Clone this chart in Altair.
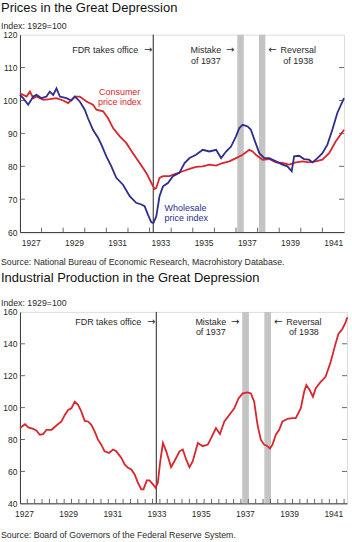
import altair as alt
import pandas as pd

FONT = "Liberation Sans"
TEXT_COLOR = "#2a2a2a"
RED = "#d8262c"
BLUE = "#2e2c8c"
SHADE = "#c4c4c4"

# ---------------- data: prices (index 1929=100) ----------------
CPI_YEARS = [1927.00, 1927.31, 1927.46, 1927.62, 1927.77, 1928.08, 1928.38, 1928.69, 1929.00, 1929.23,
             1929.54, 1929.77, 1930.08, 1930.38, 1930.54, 1930.85, 1931.08, 1931.31, 1931.62, 1931.92,
             1932.23, 1932.54, 1932.85, 1933.08, 1933.23, 1933.31, 1933.46, 1933.62, 1933.92, 1934.23,
             1934.54, 1934.85, 1935.15, 1935.46, 1935.77, 1936.08, 1936.38, 1936.69, 1937.00, 1937.31,
             1937.62, 1937.77, 1937.92, 1938.23, 1938.54, 1938.85, 1939.15, 1939.46, 1939.77, 1940.08,
             1940.38, 1940.69, 1941.00, 1941.31, 1941.62, 1942.00]
CPI_VALUES = [102.2, 101.2, 102.7, 100.7, 101.2, 100.2, 100.4, 100.7, 100.0, 99.2,
              101.2, 101.2, 99.7, 98.7, 97.2, 96.7, 94.6, 91.6, 89.1, 87.1,
              84.0, 81.0, 78.0, 75.0, 73.1, 73.4, 76.5, 77.0, 77.0, 77.8,
              78.5, 79.2, 79.8, 80.0, 80.5, 80.2, 81.0, 81.5, 82.5, 83.5,
              85.0, 84.5, 83.5, 82.0, 82.2, 81.2, 81.0, 80.5, 81.2, 81.5,
              81.2, 81.5, 82.0, 84.0, 87.6, 91.1]

WPI_YEARS = [1927.00, 1927.15, 1927.38, 1927.62, 1927.77, 1928.00, 1928.23, 1928.38, 1928.54, 1928.69,
             1928.85, 1929.15, 1929.38, 1929.54, 1929.77, 1930.00, 1930.15, 1930.38, 1930.62, 1930.77,
             1931.00, 1931.23, 1931.46, 1931.77, 1932.08, 1932.38, 1932.62, 1932.77, 1932.92, 1933.08,
             1933.18, 1933.31, 1933.46, 1933.62, 1933.85, 1934.08, 1934.38, 1934.62, 1934.85, 1935.15,
             1935.46, 1935.77, 1936.08, 1936.31, 1936.54, 1936.77, 1937.00, 1937.15, 1937.31, 1937.54,
             1937.69, 1937.85, 1938.08, 1938.31, 1938.54, 1938.85, 1939.15, 1939.38, 1939.58, 1939.69,
             1939.92, 1940.15, 1940.38, 1940.54, 1940.77, 1941.00, 1941.23, 1941.46, 1941.69, 1942.00]
WPI_VALUES = [101.7, 100.7, 98.7, 101.2, 101.7, 100.7, 101.2, 102.7, 101.7, 103.7,
              101.2, 100.7, 100.0, 101.2, 99.7, 97.2, 94.6, 91.1, 88.6, 86.6,
              83.0, 80.0, 76.5, 74.4, 70.9, 68.9, 68.4, 67.9, 65.4, 63.0,
              62.8, 64.8, 70.9, 73.9, 74.9, 77.0, 78.0, 81.0, 82.5, 83.5,
              85.0, 84.5, 85.0, 82.5, 84.5, 86.0, 89.1, 91.6, 92.6, 92.1,
              91.1, 88.1, 84.0, 82.5, 82.5, 81.5, 80.5, 80.0, 78.5, 83.0,
              83.2, 82.2, 82.0, 81.2, 82.5, 84.0, 86.6, 91.1, 96.2, 100.7]

# ---------------- data: industrial production (index 1929=100) ----------------
IP_YEARS = [1927.00, 1927.23, 1927.38, 1927.60, 1927.75, 1927.90, 1928.05, 1928.20, 1928.43, 1928.65,
            1928.88, 1929.03, 1929.18, 1929.33, 1929.48, 1929.63, 1929.78, 1929.93, 1930.08, 1930.23,
            1930.38, 1930.53, 1930.68, 1930.83, 1931.03, 1931.21, 1931.36, 1931.59, 1931.74, 1931.89,
            1932.04, 1932.19, 1932.34, 1932.49, 1932.59, 1932.74, 1932.86, 1933.02, 1933.14, 1933.24,
            1933.35, 1933.47, 1933.62, 1933.84, 1933.99, 1934.22, 1934.37, 1934.52, 1934.67, 1934.82,
            1935.05, 1935.27, 1935.50, 1935.65, 1935.87, 1936.05, 1936.25, 1936.47, 1936.70, 1936.89,
            1937.08, 1937.30, 1937.45, 1937.60, 1937.75, 1937.90, 1938.05, 1938.20, 1938.31, 1938.43,
            1938.58, 1938.73, 1938.88, 1939.11, 1939.33, 1939.48, 1939.71, 1939.86, 1939.96, 1940.11,
            1940.26, 1940.38, 1940.61, 1940.83, 1941.06, 1941.26, 1941.41, 1941.59, 1941.74, 1941.81]
IP_VALUES = [87.2, 89.6, 87.6, 86.7, 85.5, 83.0, 83.4, 86.1, 86.1, 88.8,
             91.3, 95.4, 98.5, 99.6, 103.7, 101.7, 97.5, 91.7, 91.3, 89.2,
             85.1, 79.9, 76.8, 72.6, 71.6, 73.7, 72.6, 68.5, 64.4, 62.3,
             61.2, 58.1, 52.9, 48.8, 48.8, 54.4, 54.4, 51.9, 49.8, 53.0,
             66.4, 77.8, 72.6, 62.7, 66.4, 72.6, 73.7, 67.5, 62.7, 66.4,
             77.8, 75.8, 76.8, 80.9, 87.2, 83.4, 91.3, 95.4, 99.6, 105.8,
             108.9, 109.5, 108.9, 103.7, 89.2, 79.9, 76.8, 75.8, 74.3, 76.8,
             83.0, 86.1, 91.3, 93.0, 93.4, 93.4, 99.6, 109.9, 114.1, 111.0,
             106.8, 112.0, 116.2, 119.3, 128.6, 139.0, 146.2, 149.3, 153.5, 156.6]

# ---------------- events ----------------
FDR_YEAR = [1933.17]
SHADE_START = [1937.06, 1938.06]
SHADE_END = [1937.36, 1938.36]

# ---------------- axes ----------------
LABEL_YEARS = [1927, 1929, 1931, 1933, 1935, 1937, 1939, 1941]
TOP_X_TICKS = list(range(1928, 1942))
BOTTOM_X_TICKS = [1927 + k / 3 for k in range(1, 45)]
TOP_Y_LABELS = [60, 70, 80, 90, 100, 110, 120]
TOP_Y_TICKS = [70, 80, 90, 100, 110]
BOTTOM_Y_LABELS = [40, 60, 80, 100, 120, 140, 160]
BOTTOM_Y_TICKS = [60, 80, 100, 120, 140]


def make_panel(width, height, xdomain, ydomain, label_pos, x_ticks, y_labels, y_ticks,
               line_df, color_domain, color_range, title, source, source_gap, sub_pad, title_offset, texts):
    xs = alt.Scale(domain=xdomain, nice=False, zero=False)
    ys = alt.Scale(domain=ydomain, nice=False, zero=False)
    xax = alt.Axis(values=label_pos, labelExpr="floor(datum.value)", ticks=False, grid=False,
                   title=None, domainColor="#333", labelFontSize=8.5, labelColor=TEXT_COLOR,
                   labelPadding=6, labelFlush=False, labelFont=FONT)
    yax = alt.Axis(values=y_labels, ticks=False, grid=False, title=None, domainColor="#333",
                   labelFontSize=8.5, labelColor=TEXT_COLOR, labelPadding=3, labelFont=FONT)

    shade_df = pd.DataFrame({"start": SHADE_START, "end": SHADE_END})
    shade = alt.Chart(shade_df).mark_rect(color=SHADE).encode(
        x=alt.X("start:Q", scale=xs, axis=xax), x2="end:Q",
        y=alt.value(0), y2=alt.value(height))

    fdr = alt.Chart(pd.DataFrame({"year": FDR_YEAR})).mark_rule(color="#222", strokeWidth=1).encode(
        x=alt.X("year:Q", scale=xs, axis=xax))

    lines = alt.Chart(line_df).mark_line(strokeWidth=1.8).encode(
        x=alt.X("year:Q", scale=xs, axis=xax),
        y=alt.Y("value:Q", scale=ys, axis=yax),
        color=alt.Color("series:N", scale=alt.Scale(domain=color_domain, range=color_range), legend=None))

    xt = alt.Chart(pd.DataFrame({"year": x_ticks})).mark_rule(color="#444", strokeWidth=0.8).encode(
        x=alt.X("year:Q", scale=xs, axis=xax), y=alt.value(height - 4.5), y2=alt.value(height))

    yt_df = pd.DataFrame({"v": y_ticks})
    ytl = alt.Chart(yt_df).mark_rule(color="#444", strokeWidth=0.8).encode(
        y=alt.Y("v:Q", scale=ys, axis=yax), x=alt.value(0), x2=alt.value(5))
    ytr = alt.Chart(yt_df).mark_rule(color="#444", strokeWidth=0.8).encode(
        y=alt.Y("v:Q", scale=ys, axis=yax), x=alt.value(width - 5), x2=alt.value(width))

    layers = [shade, fdr, lines, xt, ytl, ytr]
    for t in texts:
        txt, xpos, ypos, align, dx, color, font, size = t
        if isinstance(xpos, tuple):
            xenc = alt.X(datum=xpos[0], scale=xs, axis=xax)
        else:
            xenc = alt.value(xpos)
        layers.append(
            alt.Chart(pd.DataFrame({"t": [txt]})).mark_text(
                align=align, baseline="middle", dx=dx, color=color, font=font, fontSize=size
            ).encode(x=xenc, y=alt.value(ypos), text="t:N"))

    layers.append(
        alt.Chart(pd.DataFrame({"t": [source]})).mark_text(
            align="left", baseline="middle", color=TEXT_COLOR, font=FONT, fontSize=8.8
        ).encode(x=alt.value(-19), y=alt.value(height + source_gap), text="t:N"))

    return alt.layer(*layers).properties(
        width=width, height=height,
        title=alt.TitleParams(text=title, subtitle="Index: 1929=100", anchor="start", frame="bounds",
                              font=FONT, fontSize=13, fontWeight="normal", color="#111",
                              subtitleFont=FONT, subtitleFontSize=8.8, subtitleColor=TEXT_COLOR,
                              subtitlePadding=sub_pad, offset=title_offset))


ARROW_FONT = "DejaVu Sans"


def annotations(fdr, s0, s1, y1, y2):
    return [
        ("FDR takes office", (fdr,), y1, "right", -15, TEXT_COLOR, FONT, 9),
        ("\u2192", (fdr,), y1, "right", -1, TEXT_COLOR, ARROW_FONT, 10),
        ("Mistake", (s0,), y1, "center", -31.5, TEXT_COLOR, FONT, 9),
        ("of 1937", (s0,), y2, "center", -31.5, TEXT_COLOR, FONT, 9),
        ("\u2192", (s0,), y1, "right", -3, TEXT_COLOR, ARROW_FONT, 10),
        ("\u2190", (s1,), y1, "left", 3, TEXT_COLOR, ARROW_FONT, 10),
        ("Reversal", (s1,), y1, "center", 33, TEXT_COLOR, FONT, 9),
        ("of 1938", (s1,), y2, "center", 33, TEXT_COLOR, FONT, 9),
    ]


prices_df = pd.DataFrame({
    "year": CPI_YEARS + WPI_YEARS,
    "value": CPI_VALUES + WPI_VALUES,
    "series": ["Consumer price index"] * len(CPI_YEARS) + ["Wholesale price index"] * len(WPI_YEARS),
})
ip_df = pd.DataFrame({"year": IP_YEARS, "value": IP_VALUES, "series": ["Industrial production"] * len(IP_YEARS)})

top_texts = annotations(FDR_YEAR[0], SHADE_START[0], SHADE_END[1], 15, 26) + [
    ("Consumer", 100, 58, "center", 0, RED, FONT, 9),
    ("price index", 100, 68, "center", 0, RED, FONT, 9),
    ("Wholesale", 145, 174, "left", 0, BLUE, FONT, 9),
    ("price index", 145, 184, "left", 0, BLUE, FONT, 9),
]
top = make_panel(325, 198, [1927, 1942], [60, 120], [y + 0.5 for y in LABEL_YEARS], TOP_X_TICKS,
                 TOP_Y_LABELS, TOP_Y_TICKS, prices_df,
                 ["Consumer price index", "Wholesale price index"], [RED, BLUE],
                 "Prices in the Great Depression",
                 "Source: National Bureau of Economic Research, Macrohistory Database.", 30, 7, 0, top_texts)

bottom_texts = annotations(FDR_YEAR[0], SHADE_START[0], SHADE_END[1], 10.5, 20.5)
bottom = make_panel(328, 192, [1927, 1941.8], [40, 160], [y + 0.18 for y in LABEL_YEARS], BOTTOM_X_TICKS,
                    BOTTOM_Y_LABELS, BOTTOM_Y_TICKS, ip_df,
                    ["Industrial production"], [RED],
                    "Industrial Production in the Great Depression",
                    "Source: Board of Governors of the Federal Reserve System.", 32, 14, 0, bottom_texts)

chart = alt.vconcat(top, bottom, spacing=3).properties(padding=0).configure_view(
    stroke="#9a9a9a", strokeWidth=1).configure(background="white")

chart.save("out.html", embed_options={"renderer": "svg", "actions": False})
